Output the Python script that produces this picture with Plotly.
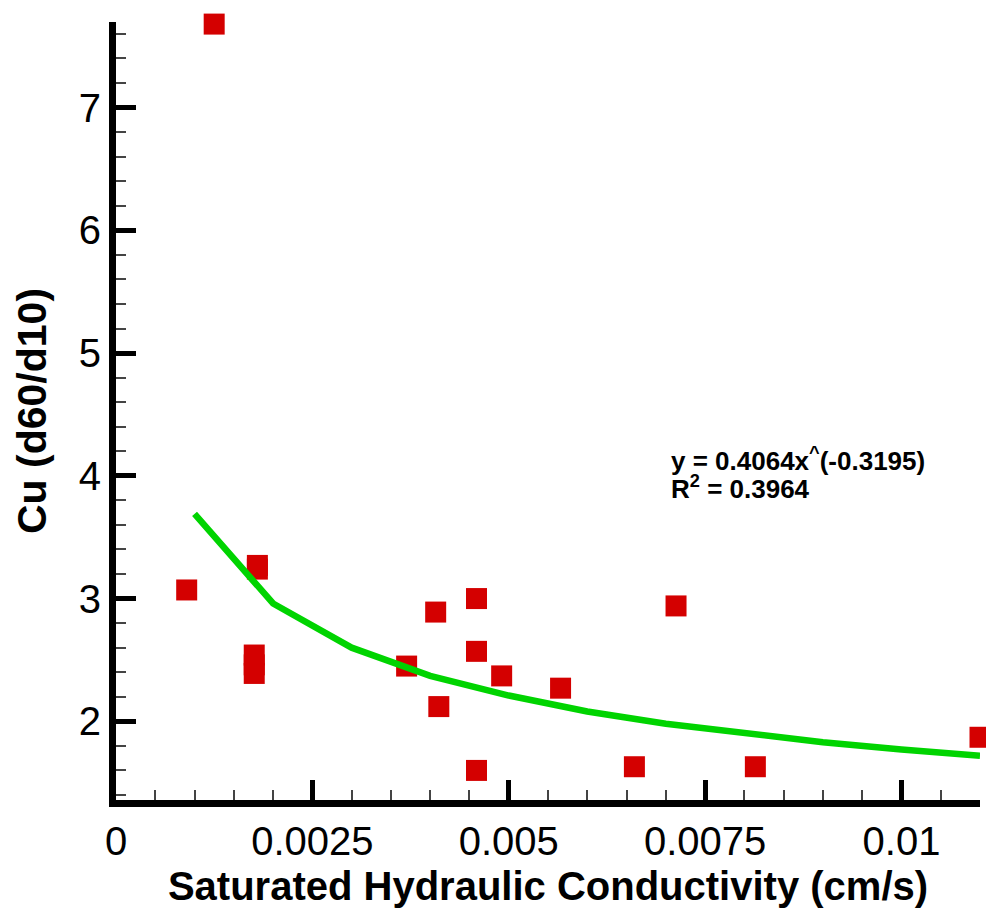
import plotly.graph_objects as go

k_sat = [0.00090, 0.00125, 0.00180, 0.00180, 0.00176, 0.00176, 0.00176,
         0.00370, 0.00407, 0.00411, 0.00459, 0.00459, 0.00459, 0.00491,
         0.00566, 0.00660, 0.00713, 0.00814, 0.01100]
cu = [3.07, 7.68, 3.27, 3.24, 2.54, 2.46, 2.39,
      2.45, 2.89, 2.12, 3.00, 2.57, 1.60, 2.37,
      2.27, 1.63, 2.94, 1.63, 1.87]

# Trend line vertices
trend_x = [0.001, 0.002, 0.003, 0.004, 0.005, 0.006, 0.007, 0.008, 0.009, 0.010, 0.011]
trend_y = [3.69, 2.96, 2.60, 2.37, 2.21, 2.08, 1.98, 1.90, 1.83, 1.77, 1.72]

x_ticks = [0, 0.0025, 0.005, 0.0075, 0.01]
x_tick_labels = ["0", "0.0025", "0.005", "0.0075", "0.01"]
y_ticks = [2, 3, 4, 5, 6, 7]

eq_text = "y = 0.4064x<sup>^</sup>(-0.3195)"
r2_text = "R<sup>2</sup> = 0.3964"

FONT = "Liberation Sans, Arial, sans-serif"

fig = go.Figure()
fig.add_trace(go.Scatter(
    x=k_sat, y=cu, mode="markers",
    marker=dict(symbol="square", size=21, color="#d40000", line=dict(width=0)),
    cliponaxis=False, showlegend=False))
fig.add_trace(go.Scatter(
    x=trend_x, y=trend_y, mode="lines",
    line=dict(color="#00d400", width=6.5),
    cliponaxis=False, showlegend=False))

axis_common = dict(
    showline=True, linecolor="black", linewidth=7,
    ticks="inside", ticklen=20, tickwidth=4.5, tickcolor="black",
    showgrid=False, zeroline=False,
    tickfont=dict(family=FONT, size=40, color="black"),
)

fig.update_xaxes(
    range=[0, 0.011], tickvals=x_ticks, ticktext=x_tick_labels,
    minor=dict(dtick=0.0005, tick0=0, ticks="inside", ticklen=10, tickwidth=1.5, tickcolor="#444"),
    title=dict(text="<b>Saturated Hydraulic Conductivity (cm/s)</b>",
               font=dict(family=FONT, size=40, color="black"), standoff=12),
    **axis_common)
fig.update_yaxes(
    range=[1.359, 7.697], tickvals=y_ticks,
    minor=dict(dtick=0.2, tick0=0, ticks="inside", ticklen=10, tickwidth=1.5, tickcolor="#444"),
    title=dict(text="<b>Cu (d60/d10)</b>",
               font=dict(family=FONT, size=41, color="black"), standoff=22),
    **axis_common)

fig.add_annotation(x=0.00704, y=3.98, xref="x", yref="y", text="<b>" + eq_text + "</b>",
                   showarrow=False, xanchor="left", yanchor="bottom",
                   font=dict(family=FONT, size=26, color="black"))
fig.add_annotation(x=0.00704, y=3.757, xref="x", yref="y", text="<b>" + r2_text + "</b>",
                   showarrow=False, xanchor="left", yanchor="bottom",
                   font=dict(family=FONT, size=26, color="black"))

fig.update_layout(
    width=986, height=909,
    margin=dict(l=116, r=6, t=22, b=103),
    paper_bgcolor="white", plot_bgcolor="white",
)

fig.write_html("out.html")
